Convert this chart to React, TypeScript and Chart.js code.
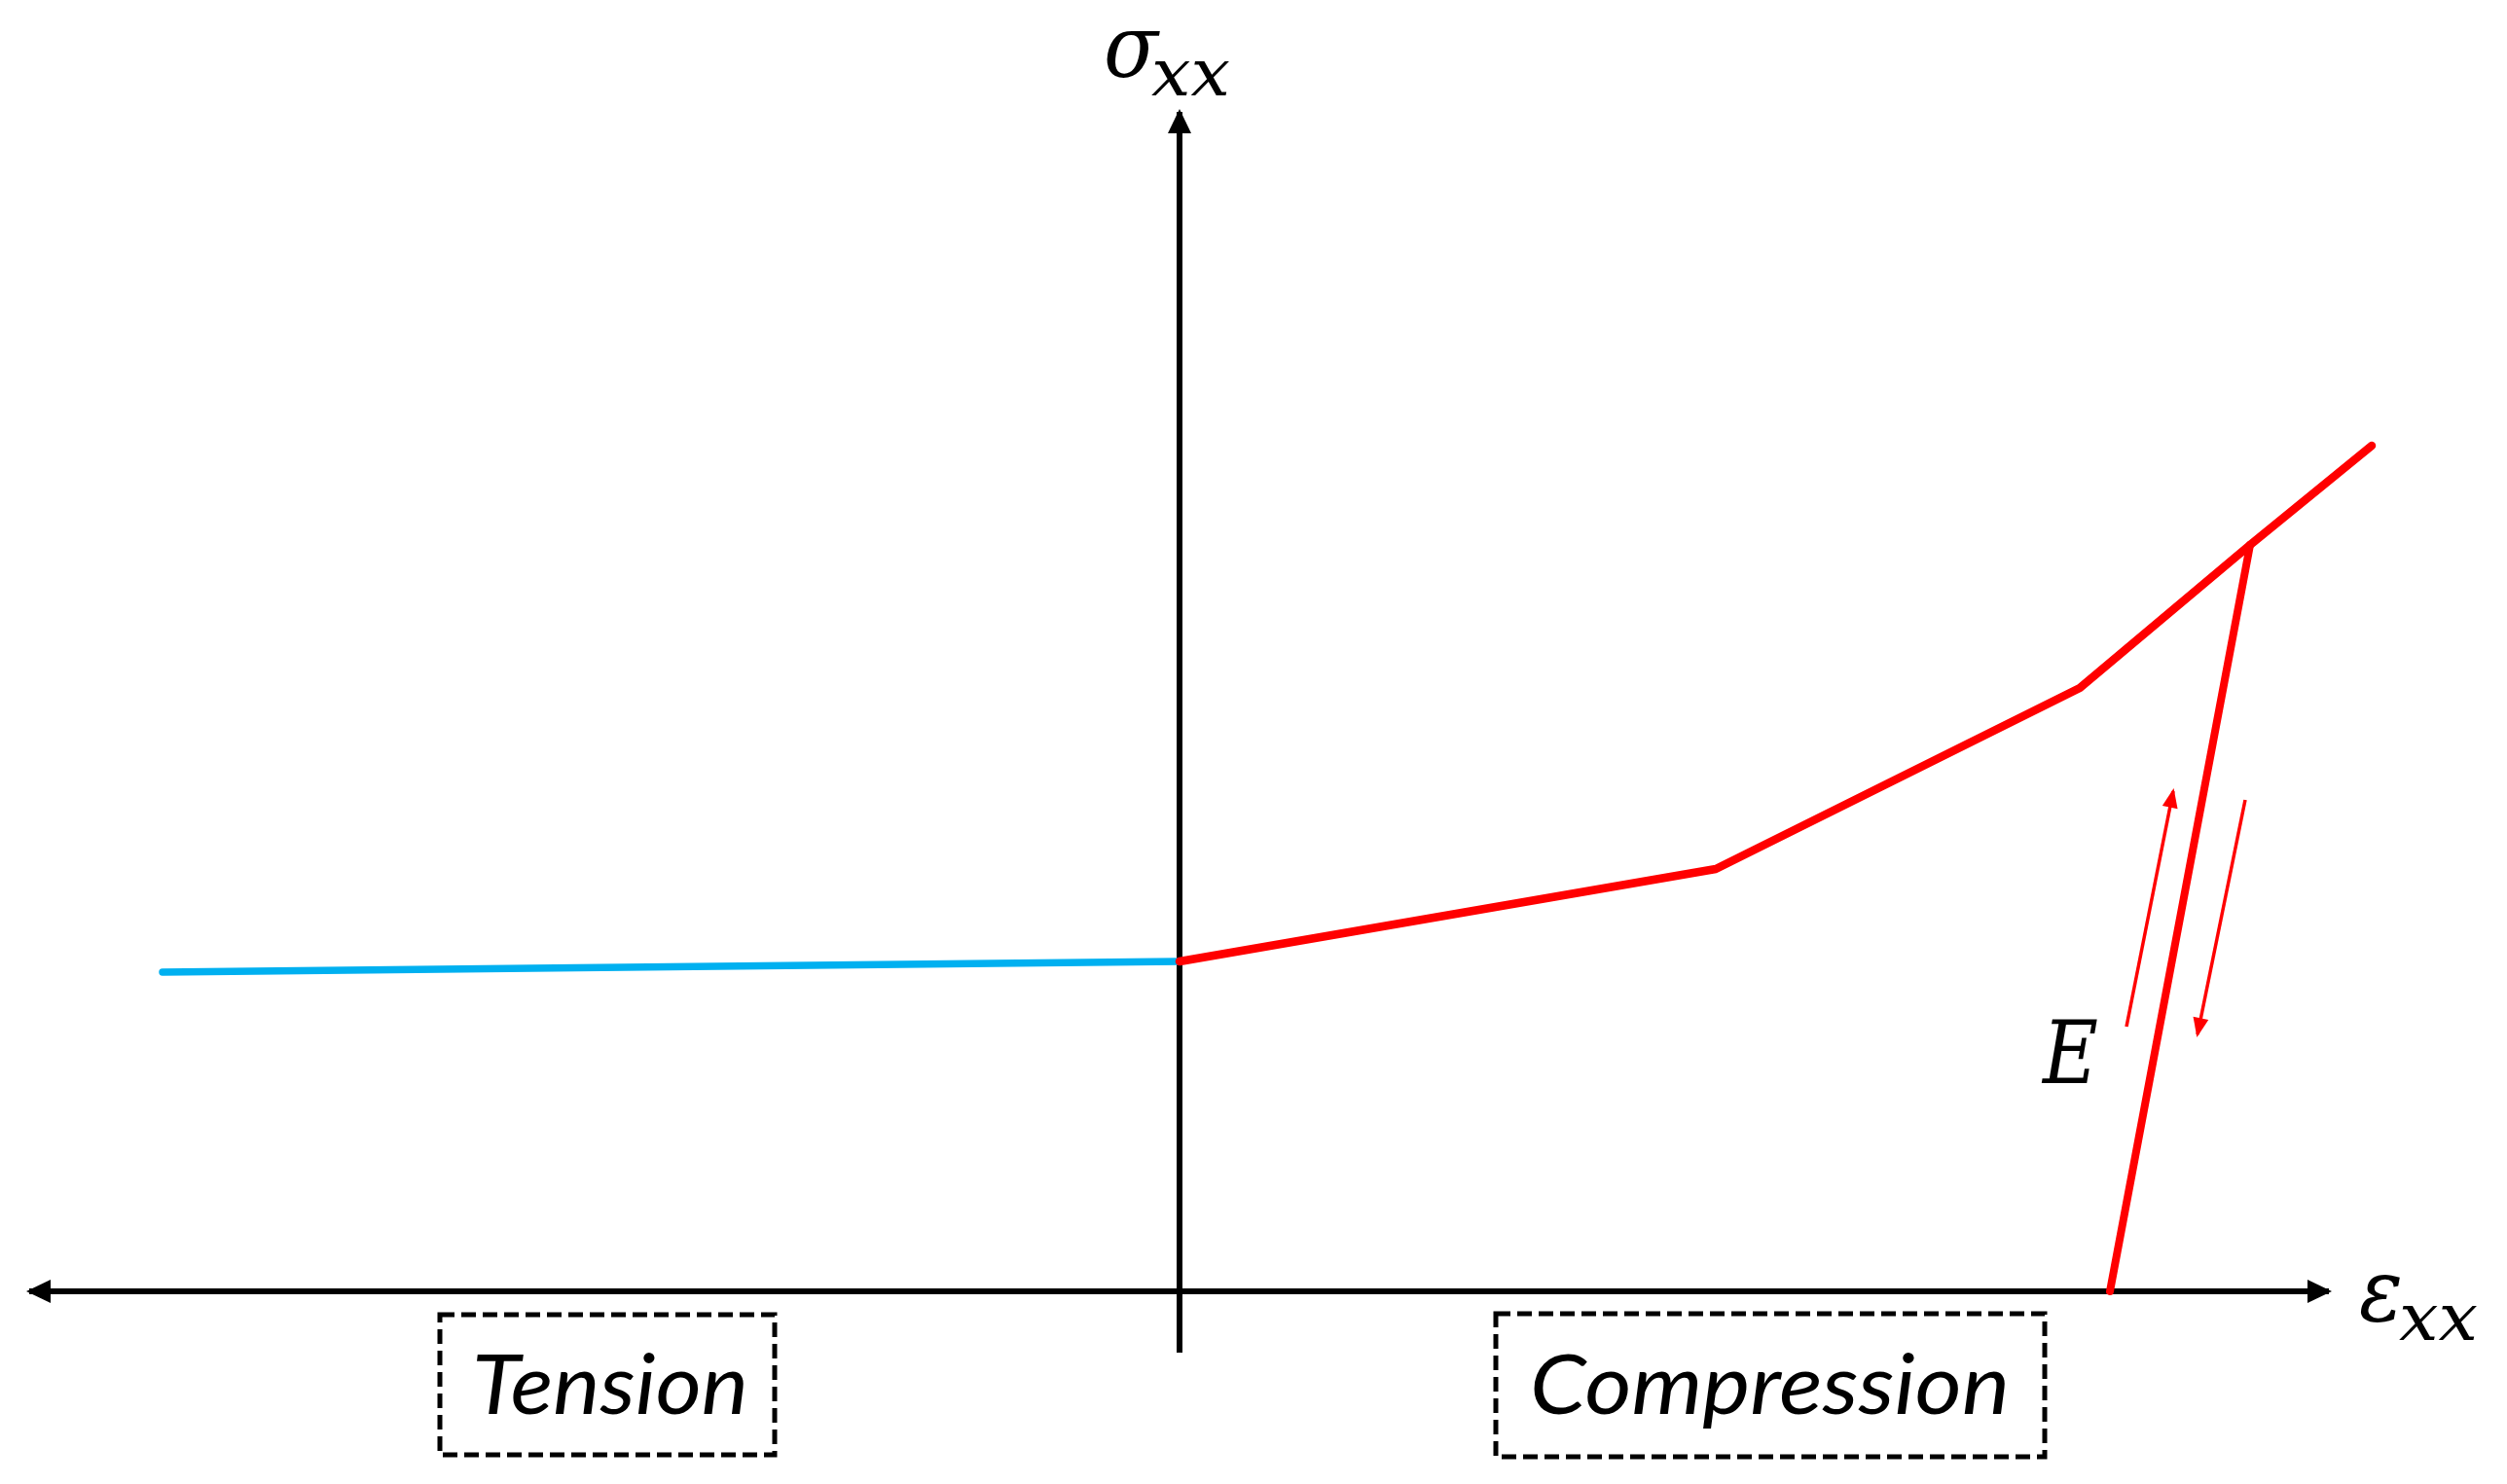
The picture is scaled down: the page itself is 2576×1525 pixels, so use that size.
import React, { useEffect, useRef } from "react";
import { Chart, registerables } from "chart.js";

Chart.register(...registerables);

// ---- data (strain on x, stress on y, in drawing units) ----
const tensionStrain = [-10.45, 0];
const tensionStress = [3.28, 3.39];
const compressionStrain = [0, 5.51, 9.25, 11.0, 12.25];
const compressionStress = [3.39, 4.34, 6.2, 7.67, 8.69];
const unloadStrain = [11.0, 9.56];
const unloadStress = [7.67, 0];
const loadArrowStrain = [9.73, 10.21];
const loadArrowStress = [2.72, 5.14];
const unloadArrowStrain = [10.95, 10.46];
const unloadArrowStress = [5.05, 2.64];
const xAxisStrain = [-11.82, 11.81];
const xAxisStress = [0, 0];
const yAxisStrain = [0, 0];
const yAxisStress = [-0.63, 12.12];

const regionLabels = ["Tension", "Compression"];
const stressSymbol = "σ";
const strainSymbol = "ε";
const subscript = "xx";
const modulusLabel = "E";

// ---- scale extents (data units) ----
const X_MIN = -12.12;
const X_MAX = 13.64;
const Y_MIN = -1.98;
const Y_MAX = 13.27;

const pts = (xs: number[], ys: number[]) => xs.map((x, i) => ({ x, y: ys[i] }));

const RED = "#FF0000";
const BLUE = "#00B0F0";
const BLACK = "#000000";

type Arrow = { start?: boolean; end?: boolean; len: number; half: number; color: string };

const arrowPlugin = {
  id: "arrowHeads",
  afterDatasetsDraw(chart: any) {
    const ctx = chart.ctx;
    chart.data.datasets.forEach((ds: any, i: number) => {
      const arrow: Arrow | undefined = ds.arrow;
      if (!arrow) return;
      const meta = chart.getDatasetMeta(i);
      const p = meta.data;
      if (p.length < 2) return;
      const draw = (tip: any, from: any) => {
        const dx = tip.x - from.x;
        const dy = tip.y - from.y;
        const d = Math.hypot(dx, dy);
        const ux = dx / d;
        const uy = dy / d;
        const tx = tip.x + ux * 3;
        const ty = tip.y + uy * 3;
        const bx = tx - ux * arrow.len;
        const by = ty - uy * arrow.len;
        ctx.save();
        ctx.fillStyle = arrow.color;
        ctx.beginPath();
        ctx.moveTo(tx, ty);
        ctx.lineTo(bx - uy * arrow.half, by + ux * arrow.half);
        ctx.lineTo(bx + uy * arrow.half, by - ux * arrow.half);
        ctx.closePath();
        ctx.fill();
        ctx.restore();
      };
      if (arrow.end) draw(p[p.length - 1], p[p.length - 2]);
      if (arrow.start) draw(p[0], p[1]);
    });
  },
};

// draw text stretched/squeezed horizontally to a given width
const fitText = (ctx: any, text: string, x: number, y: number, w: number) => {
  const m = ctx.measureText(text).width;
  ctx.save();
  ctx.translate(x, y);
  ctx.scale(w / m, 1);
  ctx.fillText(text, 0, 0);
  ctx.restore();
};

const labelPlugin = {
  id: "labels",
  afterDraw(chart: any) {
    const ctx = chart.ctx;
    const sx = chart.scales.x;
    const sy = chart.scales.y;
    const X = (v: number) => sx.getPixelForValue(v);
    const Y = (v: number) => sy.getPixelForValue(v);
    ctx.save();
    ctx.fillStyle = BLACK;
    ctx.textBaseline = "alphabetic";
    ctx.textAlign = "left";

    // sigma_xx
    ctx.font = "italic 90px 'DejaVu Serif'";
    fitText(ctx, stressSymbol, X(-0.78), Y(12.48), X(-0.22) - X(-0.78));
    ctx.font = "italic 68px 'DejaVu Serif'";
    fitText(ctx, subscript, X(-0.29), Y(12.29), X(0.52) - X(-0.29));

    // epsilon_xx
    ctx.font = "italic 90px 'DejaVu Serif'";
    fitText(ctx, strainSymbol, X(12.12), Y(-0.3), X(12.57) - X(12.12));
    ctx.font = "italic 68px 'DejaVu Serif'";
    fitText(ctx, subscript, X(12.53), Y(-0.5), X(13.34) - X(12.53));

    // E
    ctx.font = "italic 90px 'DejaVu Serif'";
    fitText(ctx, modulusLabel, X(8.87), Y(2.14), X(9.44) - X(8.87));

    // region boxes
    const boxes = [
      { x0: -7.6, x1: -4.16, y0: -0.24, y1: -1.68, tx: -7.27, tw: 2.84 },
      { x0: 3.25, x1: 8.89, y0: -0.23, y1: -1.7, tx: 3.6, tw: 4.93 },
    ];
    boxes.forEach((b, i) => {
      ctx.strokeStyle = BLACK;
      ctx.lineWidth = 5;
      ctx.setLineDash([15, 7]);
      ctx.strokeRect(X(b.x0), Y(b.y0), X(b.x1) - X(b.x0), Y(b.y1) - Y(b.y0));
      ctx.setLineDash([]);
      ctx.font = "italic 86px Lato";
      fitText(ctx, regionLabels[i], X(b.tx), Y(-1.26), X(b.tx + b.tw) - X(b.tx));
    });
    ctx.restore();
  },
};

export default function App() {
  const ref = useRef<HTMLCanvasElement | null>(null);

  useEffect(() => {
    if (!ref.current) return;
    const line = (data: any[], color: string, width: number, arrow?: Arrow, cap = "round") => ({
      data,
      showLine: true,
      borderColor: color,
      backgroundColor: color,
      borderWidth: width,
      pointRadius: 0,
      pointHoverRadius: 0,
      tension: 0,
      fill: false,
      borderCapStyle: cap,
      borderJoinStyle: "round",
      arrow,
    });
    const chart = new Chart(ref.current, {
      type: "scatter",
      data: {
        datasets: [
          line(pts(compressionStrain, compressionStress), RED, 8.5),
          line(pts(unloadStrain, unloadStress), RED, 8),
          line(pts(tensionStrain, tensionStress), BLUE, 7.5),
          line(pts(loadArrowStrain, loadArrowStress), RED, 3.5, { end: true, len: 20, half: 8, color: RED }, "butt"),
          line(pts(unloadArrowStrain, unloadArrowStress), RED, 3.5, { end: true, len: 20, half: 8, color: RED }, "butt"),
          line(pts(xAxisStrain, xAxisStress), BLACK, 6, { start: true, end: true, len: 25, half: 12, color: BLACK }, "butt"),
          line(pts(yAxisStrain, yAxisStress), BLACK, 6, { end: true, len: 25, half: 12, color: BLACK }, "butt"),
        ] as any,
      },
      options: {
        animation: false,
        responsive: false,
        devicePixelRatio: 1,
        layout: { padding: 0 },
        plugins: { legend: { display: false }, tooltip: { enabled: false }, title: { display: false } },
        events: [],
        scales: {
          x: { type: "linear", min: X_MIN, max: X_MAX, display: false },
          y: { type: "linear", min: Y_MIN, max: Y_MAX, display: false },
        },
      },
      plugins: [arrowPlugin, labelPlugin],
    } as any);
    return () => chart.destroy();
  }, []);

  return (
    <div style={{ position: "absolute", left: 0, top: 0, width: 2576, height: 1525, background: "#fff" }}>
      <canvas ref={ref} width={2576} height={1525} style={{ display: "block" }} />
    </div>
  );
}
